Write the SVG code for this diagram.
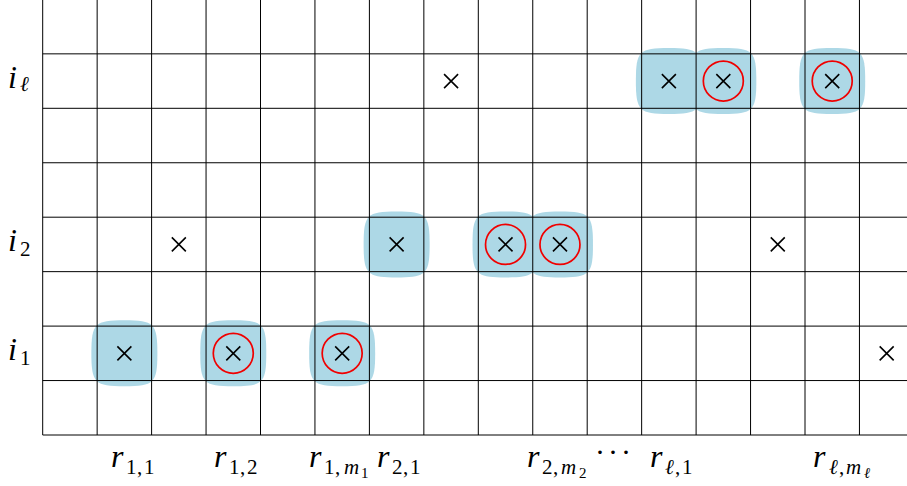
<svg xmlns="http://www.w3.org/2000/svg" xmlns:xlink="http://www.w3.org/1999/xlink" width="907" height="486" viewBox="0 0 907 486">
<style>
.grid{fill:none;stroke:#000;stroke-width:1}
.blob{fill:#ADD8E6}
.x{fill:none;stroke:#000;stroke-width:1.6}
.c{fill:none;stroke:#F00000;stroke-width:1.7}
text{font-family:"Liberation Serif","Times New Roman",serif;font-size:32px;font-style:italic;fill:#000}
.s{font-size:21px;font-style:normal}
.si{font-size:21px;font-style:italic}
.ss{font-size:15px;font-style:normal}
.ssi{font-size:15px;font-style:italic}
</style>
<defs>
<path id="blob" class="blob" d="M0,-33 C29.7,-33 33,-29.7 33,0 C33,29.7 29.7,33 0,33 C-29.7,33 -33,29.7 -33,0 C-33,-29.7 -29.7,-33 0,-33 Z"/>
<path id="cross" class="x" d="M-7,-7 L7,7 M7,-7 L-7,7"/>
<circle id="ring" class="c" r="20"/>
</defs>
<rect width="907" height="486" fill="#fff"/>
<g id="highlights">
<use xlink:href="#blob" href="#blob" x="124.375" y="353.325"/>
<use xlink:href="#blob" href="#blob" x="233.275" y="353.325"/>
<use xlink:href="#blob" href="#blob" x="342.175" y="353.325"/>
<use xlink:href="#blob" href="#blob" x="396.625" y="244.425"/>
<use xlink:href="#blob" href="#blob" x="505.525" y="244.425"/>
<use xlink:href="#blob" href="#blob" x="559.975" y="244.425"/>
<use xlink:href="#blob" href="#blob" x="668.875" y="81.075"/>
<use xlink:href="#blob" href="#blob" x="723.325" y="81.075"/>
<use xlink:href="#blob" href="#blob" x="832.225" y="81.075"/>
</g>
<g id="grid" class="grid">
<path d="M42.7,0V435 M97.15,0V435 M151.6,0V435 M206.05,0V435 M260.5,0V435 M314.95,0V435 M369.4,0V435 M423.85,0V435 M478.3,0V435 M532.75,0V435 M587.2,0V435 M641.65,0V435 M696.1,0V435 M750.55,0V435 M805,0V435 M859.45,0V435"/>
<path d="M42.7,435H907 M42.7,380.55H907 M42.7,326.1H907 M42.7,271.65H907 M42.7,217.2H907 M42.7,162.75H907 M42.7,108.3H907 M42.7,53.85H907"/>
</g>
<g id="connectors"/>
<g id="row-i1">
<g id="n-i1-r11"><use xlink:href="#cross" href="#cross" x="124.375" y="353.325"/></g>
<g id="n-i1-r12"><use xlink:href="#cross" href="#cross" x="233.275" y="353.325"/><use xlink:href="#ring" href="#ring" x="233.275" y="353.325"/></g>
<g id="n-i1-r1m1"><use xlink:href="#cross" href="#cross" x="342.175" y="353.325"/><use xlink:href="#ring" href="#ring" x="342.175" y="353.325"/></g>
<g id="n-i1-c15"><use xlink:href="#cross" href="#cross" x="886.675" y="353.325"/></g>
</g>
<g id="row-i2">
<g id="n-i2-c2"><use xlink:href="#cross" href="#cross" x="178.825" y="244.425"/></g>
<g id="n-i2-r21"><use xlink:href="#cross" href="#cross" x="396.625" y="244.425"/></g>
<g id="n-i2-c8"><use xlink:href="#cross" href="#cross" x="505.525" y="244.425"/><use xlink:href="#ring" href="#ring" x="505.525" y="244.425"/></g>
<g id="n-i2-r2m2"><use xlink:href="#cross" href="#cross" x="559.975" y="244.425"/><use xlink:href="#ring" href="#ring" x="559.975" y="244.425"/></g>
<g id="n-i2-c13"><use xlink:href="#cross" href="#cross" x="777.775" y="244.425"/></g>
</g>
<g id="row-il">
<g id="n-il-c7"><use xlink:href="#cross" href="#cross" x="451.075" y="81.075"/></g>
<g id="n-il-rl1"><use xlink:href="#cross" href="#cross" x="668.875" y="81.075"/></g>
<g id="n-il-c12"><use xlink:href="#cross" href="#cross" x="723.325" y="81.075"/><use xlink:href="#ring" href="#ring" x="723.325" y="81.075"/></g>
<g id="n-il-rlml"><use xlink:href="#cross" href="#cross" x="832.225" y="81.075"/><use xlink:href="#ring" href="#ring" x="832.225" y="81.075"/></g>
</g>
<g id="row-labels">
<text x="8" y="87.5">i<tspan class="si" x="20" y="91">ℓ</tspan></text>
<text x="8" y="251">i<tspan class="s" x="20" y="256">2</tspan></text>
<text x="8" y="360">i<tspan class="s" x="20" y="364.5">1</tspan></text>
</g>
<g id="col-labels">
<text x="111" y="467">r<tspan class="s" x="126" y="474">1</tspan><tspan class="s" x="137" y="474">,</tspan><tspan class="s" x="144" y="474">1</tspan></text>
<text x="214" y="467">r<tspan class="s" x="229" y="474">1</tspan><tspan class="s" x="240" y="474">,</tspan><tspan class="s" x="247" y="474">2</tspan></text>
<text x="309" y="467">r<tspan class="s" x="324" y="474">1</tspan><tspan class="s" x="335" y="474">,</tspan><tspan class="si" x="344" y="474">m</tspan><tspan class="ss" x="361" y="478">1</tspan></text>
<text x="377" y="467">r<tspan class="s" x="392" y="474">2</tspan><tspan class="s" x="403" y="474">,</tspan><tspan class="s" x="410" y="474">1</tspan></text>
<text x="527" y="467">r<tspan class="s" x="542" y="474">2</tspan><tspan class="s" x="553" y="474">,</tspan><tspan class="si" x="561" y="474">m</tspan><tspan class="ss" x="579" y="478">2</tspan></text>
<text x="595" y="462" style="font-style:normal;font-size:30px;letter-spacing:3px">···</text>
<text x="650" y="467">r<tspan class="si" x="665" y="474">ℓ</tspan><tspan class="s" x="675" y="474">,</tspan><tspan class="s" x="682" y="474">1</tspan></text>
<text x="813" y="467">r<tspan class="si" x="829" y="474">ℓ</tspan><tspan class="s" x="839" y="474">,</tspan><tspan class="si" x="846" y="474">m</tspan><tspan class="ssi" x="864" y="478">ℓ</tspan></text>
</g>
</svg>
